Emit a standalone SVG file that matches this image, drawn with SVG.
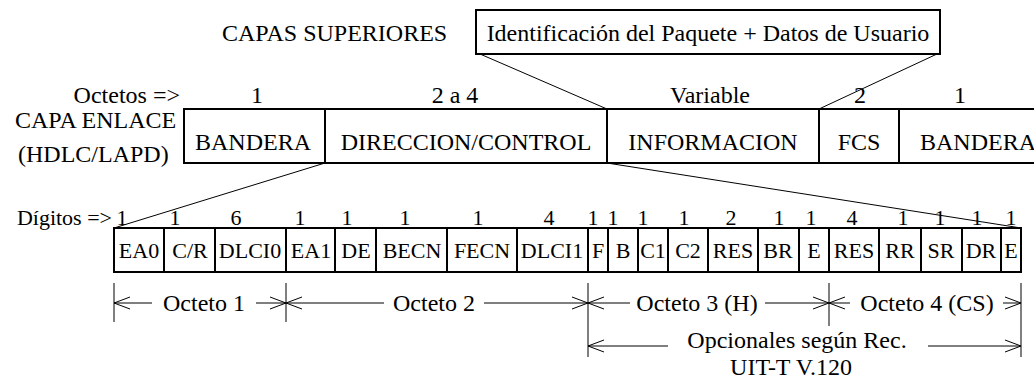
<svg xmlns="http://www.w3.org/2000/svg" width="1034" height="381" viewBox="0 0 1034 381">
<style>
text{font-family:"Liberation Serif","Times New Roman",serif;fill:#000;font-size:24px}
.c{text-anchor:middle}
.e{text-anchor:end}
.b{font-size:22px;text-anchor:middle}
.box{fill:#fff;stroke:#000;stroke-width:2}
.div{stroke:#000;stroke-width:2;fill:none}
.thin{stroke:#000;stroke-width:1;fill:none}
</style>
<rect width="1034" height="381" fill="#fff"/>
<g id="labels">
<text x="222" y="41">CAPAS SUPERIORES</text>
<text class="e" x="180" y="103">Octetos =&gt;</text>
<text x="15" y="128">CAPA ENLACE</text>
<text x="18" y="162">(HDLC/LAPD)</text>
<text class="e" x="112" y="225" style="font-size:22px">Dígitos =&gt;</text>
</g>
<g id="connectors">
<line class="thin" x1="480" y1="54" x2="607" y2="109"/>
<line class="thin" x1="937" y1="54" x2="819" y2="109"/>
<line class="thin" x1="325" y1="163" x2="114" y2="228"/>
<line class="thin" x1="607" y1="163" x2="1021" y2="228"/>
</g>
<g id="upper">
<rect class="box" x="476" y="10" width="464" height="44"/>
<text class="c" x="708" y="41">Identificación del Paquete + Datos de Usuario</text>
</g>
<g id="octet-counts">
<text class="c" x="257" y="103">1</text>
<text class="c" x="455" y="103">2 a 4</text>
<text class="c" x="710" y="103">Variable</text>
<text class="c" x="860" y="103">2</text>
<text class="c" x="960" y="103">1</text>
</g>
<g id="frame">
<rect class="box" x="184" y="109" width="860" height="54"/>
<path class="div" d="M325 109V163M607 109V163M819 109V163M899 109V163"/>
<text class="c" x="253" y="150">BANDERA</text>
<text class="c" x="466" y="150">DIRECCION/CONTROL</text>
<text class="c" x="713" y="150">INFORMACION</text>
<text class="c" x="859" y="150">FCS</text>
<text x="920" y="150">BANDERA</text>
</g>
<g id="bits">
<rect class="box" x="114" y="228" width="907" height="44"/>
<path class="div" d="M164 228V272M215 228V272M286 228V272M335 228V272M376 228V272M447 228V272M517 228V272M588 228V272M608 228V272M638 228V272M668 228V272M708 228V272M758 228V272M799 228V272M829 228V272M879 228V272M921 228V272M962 228V272M1001 228V272"/>
<text class="b" x="139" y="258">EA0</text>
<text class="b" x="190" y="258">C/R</text>
<text class="b" x="250" y="258">DLCI0</text>
<text class="b" x="311" y="258">EA1</text>
<text class="b" x="356" y="258">DE</text>
<text class="b" x="412" y="258">BECN</text>
<text class="b" x="482" y="258">FECN</text>
<text class="b" x="552" y="258">DLCI1</text>
<text class="b" x="598" y="258">F</text>
<text class="b" x="623" y="258">B</text>
<text class="b" x="653" y="258">C1</text>
<text class="b" x="688" y="258">C2</text>
<text class="b" x="733" y="258">RES</text>
<text class="b" x="778" y="258">BR</text>
<text class="b" x="814" y="258">E</text>
<text class="b" x="854" y="258">RES</text>
<text class="b" x="900" y="258">RR</text>
<text class="b" x="941" y="258">SR</text>
<text class="b" x="981" y="258">DR</text>
<text class="b" x="1011" y="258">E</text>
</g>
<g id="digits">
<text class="b" x="122" y="225">1</text>
<text class="b" x="175" y="225">1</text>
<text class="b" x="236" y="225">6</text>
<text class="b" x="300" y="225">1</text>
<text class="b" x="347" y="225">1</text>
<text class="b" x="405" y="225">1</text>
<text class="b" x="478" y="225">1</text>
<text class="b" x="549" y="225">4</text>
<text class="b" x="593" y="225">1</text>
<text class="b" x="613" y="225">1</text>
<text class="b" x="643" y="225">1</text>
<text class="b" x="684" y="225">1</text>
<text class="b" x="731" y="225">2</text>
<text class="b" x="779" y="225">1</text>
<text class="b" x="811" y="225">1</text>
<text class="b" x="852" y="225">4</text>
<text class="b" x="903" y="225">1</text>
<text class="b" x="940" y="225">1</text>
<text class="b" x="977" y="225">1</text>
<text class="b" x="1011" y="225">1</text>
</g>
<g id="dimensions">
<path class="thin" d="M114 283V322M286 283V322M588 283V357M829 283V326M1021 283V357"/>
<path class="thin" d="M114 303H152M130 297L114 303L130 309M256 303H286M270 297L286 303L270 309"/>
<path class="thin" d="M286 303H384M302 297L286 303L302 309M484 303H588M572 297L588 303L572 309"/>
<path class="thin" d="M588 303H630M604 297L588 303L604 309M765 303H829M813 297L829 303L813 309"/>
<path class="thin" d="M829 303H850M845 297L829 303L845 309M1003 303H1021M1005 297L1021 303L1005 309"/>
<path class="thin" d="M588 346H668M604 340L588 346L604 352M928 346H1021M1005 340L1021 346L1005 352"/>
<text class="c" x="204" y="311">Octeto 1</text>
<text class="c" x="434" y="311">Octeto 2</text>
<text class="c" x="697" y="311">Octeto 3 (H)</text>
<text class="c" x="927" y="311">Octeto 4 (CS)</text>
<text class="c" x="797" y="348">Opcionales según Rec.</text>
<text class="c" x="791" y="375">UIT-T V.120</text>
</g>
</svg>
